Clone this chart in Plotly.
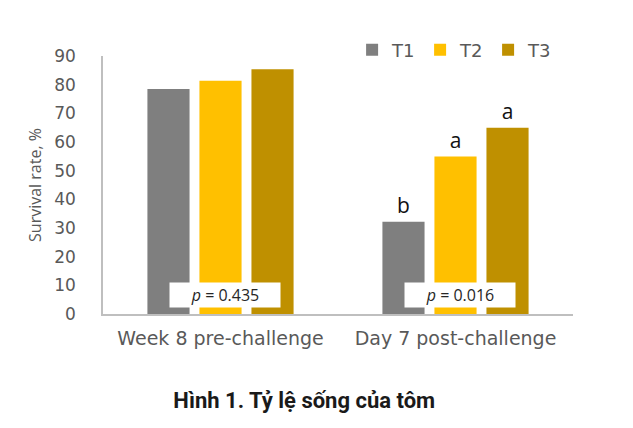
import plotly.graph_objects as go

# data
categories = ["Week 8 pre-challenge", "Day 7 post-challenge"]
treatments = ["T1", "T2", "T3"]
survival = {
    "T1": [78.5, 32.2],
    "T2": [81.4, 54.9],
    "T3": [85.4, 65.0],
}
letters = {
    "T1": ["", "b"],
    "T2": ["", "a"],
    "T3": ["", "a"],
}
p_values = ["0.435", "0.016"]
y_ticks = [0, 10, 20, 30, 40, 50, 60, 70, 80, 90]

colors = {"T1": "#7f7f7f", "T2": "#ffc000", "T3": "#bf9000"}
grey_text = "#595959"
axis_col = "#bfbfbf"
font_main = "DejaVu Sans, sans-serif"

fig = go.Figure()

for t in treatments:
    fig.add_trace(go.Bar(
        name=t,
        x=categories,
        y=survival[t],
        marker=dict(color=colors[t], line=dict(width=0)),
        text=letters[t],
        textposition="outside",
        outsidetextfont=dict(family="Open Sans, sans-serif", size=21, color="#111111"),
        cliponaxis=False,
    ))

# white boxes holding the p values
for cat, p in zip(categories, p_values):
    fig.add_annotation(
        x=cat, y=6.6,
        text=f"<i>p</i> = {p}",
        showarrow=False,
        xshift=4,
        font=dict(family="Open Sans, sans-serif", size=16, color="#262626"),
        bgcolor="white",
        width=106, height=20,
        borderpad=2,
    )

fig.update_layout(
    width=625, height=420,
    margin=dict(l=95, r=60, t=48, b=114),
    paper_bgcolor="white",
    plot_bgcolor="white",
    barmode="group",
    bargap=0.336,
    bargroupgap=0.19,
    font=dict(family=font_main, color=grey_text),
    legend=dict(
        orientation="h",
        x=0.53, y=1.023,
        xanchor="left", yanchor="middle",
        font=dict(family=font_main, size=18, color=grey_text),
        entrywidthmode="pixels",
        entrywidth=23,
        bgcolor="rgba(0,0,0,0)",
    ),
    title=dict(
        text="<b>Hình 1. Tỷ lệ sống của tôm</b>",
        x=0.474, xanchor="center",
        y=1 - 392 / 420, yanchor="middle",
        yref="container",
        font=dict(family="Roboto, sans-serif", size=22, color="#1a1a1a"),
    ),
    showlegend=True,
)

fig.update_xaxes(
    showline=True, linecolor=axis_col, linewidth=1.5,
    showgrid=False, ticks="",
    tickfont=dict(family=font_main, size=19, color=grey_text),
    ticklabelstandoff=6,
)

fig.update_yaxes(
    range=[0, 90],
    tickvals=y_ticks,
    showline=True, linecolor=axis_col, linewidth=1.5,
    showgrid=False, ticks="", zeroline=False,
    tickfont=dict(family=font_main, size=17, color=grey_text),
    ticklabelstandoff=22,
    title=dict(
        text="Survival rate, %",
        font=dict(family="Open Sans, sans-serif", size=16, color=grey_text),
        standoff=9,
    ),
)

fig.write_html("out.html")
